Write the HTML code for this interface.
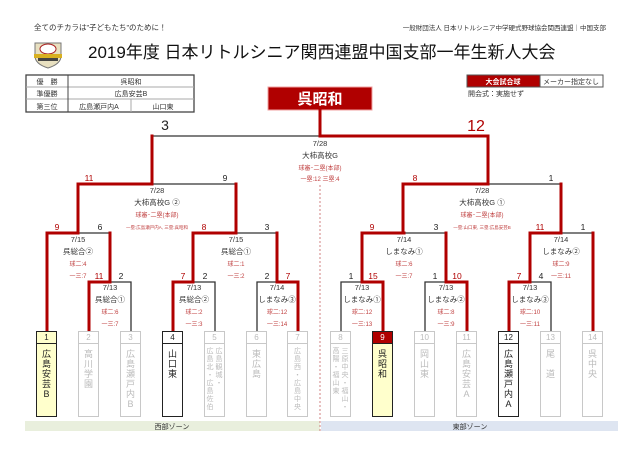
<!DOCTYPE html>
<html><head><meta charset="utf-8"><style>
body{margin:0;background:#fff;}
#c{position:relative;width:640px;height:452px;overflow:hidden;font-family:"Liberation Sans","Noto Sans CJK JP",sans-serif;}
svg{position:absolute;left:0;top:0;}
.bx{position:absolute;top:331px;width:19px;height:84px;border:1px solid #c8c8c8;background:#fff;}
.bx .n{height:11px;border-bottom:1px solid #c8c8c8;font-size:8px;text-align:center;line-height:11px;color:#bbb;}
.bx .t{font-size:9px;line-height:10px;color:#bbb;text-align:center;margin-top:5px;}
.bx .t2{display:flex;flex-direction:row-reverse;justify-content:center;font-size:7px;line-height:8px;color:#bbb;margin-top:4px;text-align:center;}
.bx .t2 div{width:9px;}
.bx.w{border:1.5px solid #222;}
.bx.w .n{border-bottom:1.5px solid #222;color:#222;}
.bx.w .t{color:#222;}
.bx.y{background:#ffffcc;}
</style></head><body><div id="c">
<svg width="640" height="452" font-family="Liberation Sans, Noto Sans CJK JP, sans-serif">
<text x="34" y="30" font-size="7.5" fill="#333">全てのチカラは”子どもたち”のために！</text>
<text x="606" y="30" font-size="6.5" fill="#333" text-anchor="end">一般財団法人 日本リトルシニア中学硬式野球協会関西連盟｜中国支部</text>
<g>
<path d="M35 43 L61 43 L61 56 Q61 64 48 68 Q35 64 35 56 Z" fill="#e8e0c0" stroke="#777" stroke-width="1"/>
<ellipse cx="48" cy="49" rx="8" ry="5" fill="#fff" stroke="#a22" stroke-width="1"/>
<rect x="34" y="54" width="28" height="4" fill="#d8b020"/>
<rect x="38" y="58" width="20" height="3" fill="#444"/>
</g>
<text x="88" y="58" font-size="17" fill="#111">2019年度 日本リトルシニア関西連盟中国支部一年生新人大会</text>
<g stroke="#444" fill="none" stroke-width="1">
<rect x="26" y="75" width="168" height="37" stroke-width="1.3"/>
<line x1="26" y1="87" x2="194" y2="87" stroke="#aaa"/><line x1="26" y1="99" x2="194" y2="99" stroke="#aaa"/>
<line x1="68" y1="75" x2="68" y2="112"/><line x1="131" y1="99" x2="131" y2="112" stroke="#aaa"/>
</g>
<g font-size="7" fill="#333" text-anchor="middle">
<text x="47" y="84">優　勝</text><text x="47" y="96">準優勝</text><text x="47" y="109">第三位</text>
<text x="131" y="84">呉昭和</text><text x="131" y="96">広島安芸B</text>
<text x="99" y="109">広島瀬戸内A</text><text x="163" y="109">山口東</text>
</g>
<rect x="467" y="75" width="73" height="12" fill="#b00000" stroke="#555"/>
<rect x="540" y="75" width="63" height="12" fill="#fff" stroke="#555"/>
<text x="503" y="84" font-size="7" fill="#fff" text-anchor="middle" font-weight="bold">大会試合球</text>
<text x="571" y="84" font-size="7" fill="#333" text-anchor="middle">メーカー指定なし</text>
<text x="468" y="96" font-size="7" fill="#333">開会式：実施せず</text>
<rect x="268" y="87" width="104" height="23" fill="#b00000" stroke="#f0a0a0" stroke-width="1"/>
<text x="320" y="104" font-size="15" fill="#fff" text-anchor="middle" font-weight="bold">呉昭和</text>
<rect x="25" y="421" width="295" height="10" fill="#e9efdd"/>
<rect x="321" y="421" width="297" height="10" fill="#dee5f1"/>
<text x="172" y="429" font-size="7" fill="#333" text-anchor="middle">西部ゾーン</text>
<text x="470" y="429" font-size="7" fill="#333" text-anchor="middle">東部ゾーン</text>
<line x1="320" y1="185" x2="320" y2="431" stroke="#d08080" stroke-width="1" stroke-dasharray="2,2"/>
<g stroke="#333" stroke-width="1.3" fill="none">
<line x1="152" y1="136" x2="320" y2="136"/>
<line x1="152" y1="184" x2="236" y2="184"/>
<line x1="487" y1="184" x2="561" y2="184"/>
<line x1="78" y1="233" x2="110" y2="233"/>
<line x1="236" y1="233" x2="277" y2="233"/>
<line x1="404" y1="233" x2="446" y2="233"/>
<line x1="561" y1="233" x2="593" y2="233"/>
<path d="M110 282 H131 V331"/>
<path d="M194 282 H215 V331"/>
<path d="M257 331 V282 H277"/>
<path d="M341 331 V282 H362"/>
<path d="M425 331 V282 H446"/>
<path d="M530 282 H551 V331"/>
</g>
<g stroke="#b00000" stroke-width="3" fill="none" stroke-linecap="square">
<line x1="320" y1="110" x2="320" y2="136"/>
<path d="M320 136 H488 V184"/>
<line x1="152" y1="136" x2="152" y2="184"/>
<path d="M152 184 H78 V233"/>
<line x1="236" y1="184" x2="236" y2="233"/>
<path d="M78 233 H47 V331"/>
<line x1="110" y1="233" x2="110" y2="282"/>
<path d="M110 282 H89 V331"/>
<path d="M236 233 H193 V282"/>
<line x1="277" y1="233" x2="277" y2="282"/>
<path d="M193 282 H173 V331"/>
<path d="M277 282 H298 V331"/>
<path d="M487 184 H403 V233"/>
<line x1="561" y1="184" x2="561" y2="233"/>
<path d="M404 233 H362 V282"/>
<line x1="446" y1="233" x2="446" y2="282"/>
<path d="M362 282 H383 V331"/>
<path d="M446 282 H467 V331"/>
<path d="M561 233 H530 V282"/>
<line x1="593" y1="233" x2="593" y2="331"/>
<path d="M530 282 H509 V331"/>
</g>
<text x="165" y="130" font-size="14" fill="#222" text-anchor="middle">3</text>
<text x="476" y="131" font-size="16" fill="#b00000" text-anchor="middle">12</text>
<g font-size="8.5" text-anchor="middle">
<text x="89" y="181" fill="#b00000">11</text><text x="225" y="181" fill="#222">9</text>
<text x="415" y="181" fill="#b00000">8</text><text x="551" y="181" fill="#222">1</text>
<text x="57" y="230" fill="#b00000">9</text><text x="100" y="230" fill="#222">6</text>
<text x="204" y="230" fill="#b00000">8</text><text x="267" y="230" fill="#222">3</text>
<text x="372" y="230" fill="#b00000">9</text><text x="436" y="230" fill="#222">3</text>
<text x="540" y="230" fill="#b00000">11</text><text x="583" y="230" fill="#222">1</text>
<text x="99" y="279" fill="#b00000">11</text><text x="121" y="279" fill="#222">2</text>
<text x="183" y="279" fill="#b00000">7</text><text x="205" y="279" fill="#222">2</text>
<text x="267" y="279" fill="#222">2</text><text x="288" y="279" fill="#b00000">7</text>
<text x="351" y="279" fill="#222">1</text><text x="373" y="279" fill="#b00000">15</text>
<text x="435" y="279" fill="#222">1</text><text x="457" y="279" fill="#b00000">10</text>
<text x="519" y="279" fill="#b00000">7</text><text x="541" y="279" fill="#222">4</text>
</g>
<g text-anchor="middle">
<g font-size="7.5" fill="#333">
<text x="320" y="146">7/28</text><text x="320" y="158">大柿高校G</text>
<text x="157" y="193">7/28</text><text x="157" y="205">大柿高校G ②</text>
<text x="482" y="193">7/28</text><text x="482" y="205">大柿高校G ①</text>
<text x="78" y="242">7/15</text><text x="78" y="254">呉総合②</text>
<text x="236" y="242">7/15</text><text x="236" y="254">呉総合①</text>
<text x="404" y="242">7/14</text><text x="404" y="254">しまなみ①</text>
<text x="561" y="242">7/14</text><text x="561" y="254">しまなみ②</text>
<text x="110" y="290">7/13</text><text x="110" y="302">呉総合①</text>
<text x="194" y="290">7/13</text><text x="194" y="302">呉総合②</text>
<text x="277" y="290">7/14</text><text x="277" y="302">しまなみ③</text>
<text x="362" y="290">7/13</text><text x="362" y="302">しまなみ①</text>
<text x="446" y="290">7/13</text><text x="446" y="302">しまなみ②</text>
<text x="530" y="290">7/13</text><text x="530" y="302">しまなみ③</text>
</g>
<g font-size="6" fill="#c04040">
<text x="320" y="170">球審･二塁(本部)</text><text x="320" y="181">一塁:12  三塁:4</text>
<text x="157" y="217">球審･二塁(本部)</text><text x="157" y="229" font-size="4.5">一塁:広島瀬戸内A, 三塁:呉昭和</text>
<text x="482" y="217">球審･二塁(本部)</text><text x="482" y="229" font-size="4.5">一塁:山口東, 三塁:広島安芸B</text>
<text x="78" y="266">球二:4</text><text x="78" y="278">一三:7</text>
<text x="236" y="266">球二:1</text><text x="236" y="278">一三:2</text>
<text x="404" y="266">球二:6</text><text x="404" y="278">一三:7</text>
<text x="561" y="266">球二:9</text><text x="561" y="278">一三:11</text>
<text x="110" y="314">球二:6</text><text x="110" y="326">一三:7</text>
<text x="194" y="314">球二:2</text><text x="194" y="326">一三:3</text>
<text x="277" y="314">球二:12</text><text x="277" y="326">一三:14</text>
<text x="362" y="314">球二:12</text><text x="362" y="326">一三:13</text>
<text x="446" y="314">球二:8</text><text x="446" y="326">一三:9</text>
<text x="530" y="314">球二:10</text><text x="530" y="326">一三:11</text>
</g>
</g>
</svg>
<div class="bx w y" style="left:36px"><div class="n">1</div><div class="t">広<br>島<br>安<br>芸<br>B</div></div>
<div class="bx" style="left:78px"><div class="n">2</div><div class="t">高<br>川<br>学<br>園</div></div>
<div class="bx" style="left:120px"><div class="n">3</div><div class="t">広<br>島<br>瀬<br>戸<br>内<br>B</div></div>
<div class="bx w" style="left:162px"><div class="n">4</div><div class="t">山<br>口<br>東</div></div>
<div class="bx" style="left:204px"><div class="n">5</div><div class="t2"><div>広<br>島<br>観<br>城<br>・</div><div>広<br>島<br>北<br>・<br>広<br>島<br>佐<br>伯</div></div></div>
<div class="bx" style="left:246px"><div class="n">6</div><div class="t">東<br>広<br>島</div></div>
<div class="bx" style="left:287px"><div class="n">7</div><div class="t2"><div>広<br>島<br>西<br>・<br>広<br>島<br>中<br>央</div></div></div>
<div class="bx" style="left:330px"><div class="n">8</div><div class="t2"><div>三<br>原<br>中<br>央<br>・<br>福<br>山<br>・</div><div>高<br>陽<br>・<br>福<br>山<br>東</div></div></div>
<div class="bx w y" style="left:372px"><div class="n" style="background:#b00000;color:#fff">9</div><div class="t">呉<br>昭<br>和</div></div>
<div class="bx" style="left:414px"><div class="n">10</div><div class="t">岡<br>山<br>東</div></div>
<div class="bx" style="left:456px"><div class="n">11</div><div class="t">広<br>島<br>安<br>芸<br>A</div></div>
<div class="bx w" style="left:498px"><div class="n">12</div><div class="t">広<br>島<br>瀬<br>戸<br>内<br>A</div></div>
<div class="bx" style="left:540px"><div class="n">13</div><div class="t">尾<br><br>道</div></div>
<div class="bx" style="left:582px"><div class="n">14</div><div class="t">呉<br>中<br>央</div></div>
</div></body></html>
